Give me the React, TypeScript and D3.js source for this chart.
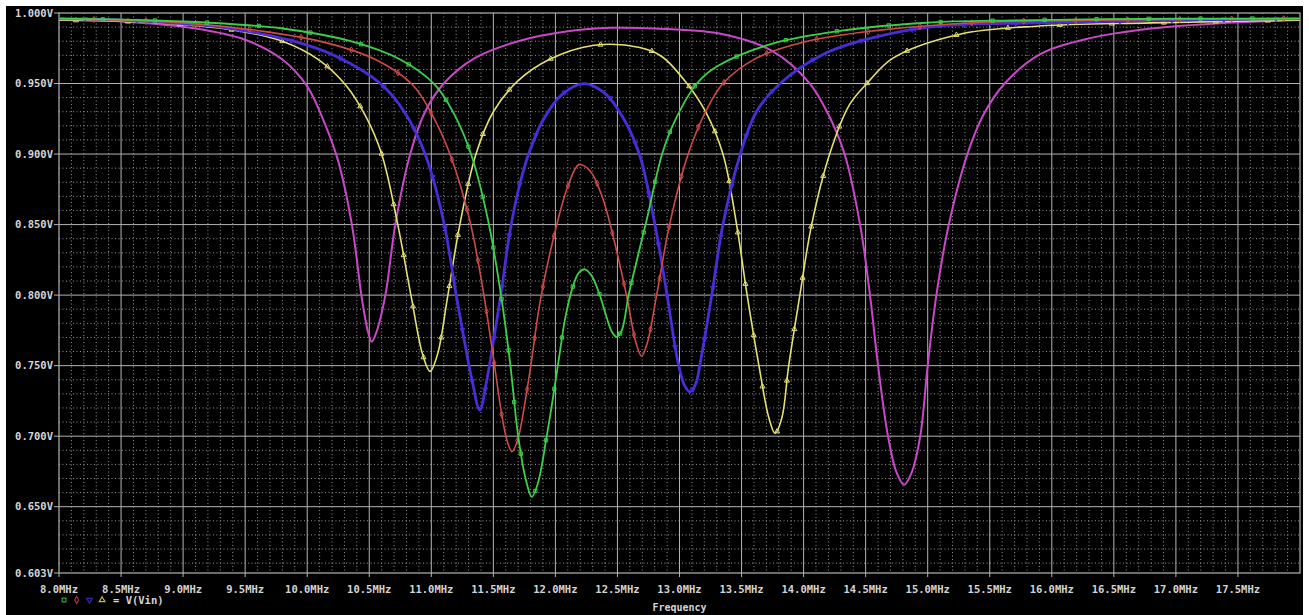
import React, { useEffect, useRef } from "react";
import * as d3 from "d3";

const W = 1309;
const H = 615;

const xTicks = [8.0, 8.5, 9.0, 9.5, 10.0, 10.5, 11.0, 11.5, 12.0, 12.5, 13.0, 13.5, 14.0, 14.5, 15.0, 15.5, 16.0, 16.5, 17.0, 17.5];
const xTickLabels = ["8.0MHz", "8.5MHz", "9.0MHz", "9.5MHz", "10.0MHz", "10.5MHz", "11.0MHz", "11.5MHz", "12.0MHz", "12.5MHz", "13.0MHz", "13.5MHz", "14.0MHz", "14.5MHz", "15.0MHz", "15.5MHz", "16.0MHz", "16.5MHz", "17.0MHz", "17.5MHz"];
const yTicks = [1.0, 0.95, 0.9, 0.85, 0.8, 0.75, 0.7, 0.65, 0.603];
const yTickLabels = ["1.000V", "0.950V", "0.900V", "0.850V", "0.800V", "0.750V", "0.700V", "0.650V", "0.603V"];

// [frequency MHz, voltage V]
const magentaPts: [number, number][] = [
  [8.0, 0.995], [8.5, 0.994], [9.1, 0.989], [9.5, 0.981], [9.8, 0.967], [10.0, 0.948], [10.14, 0.922],
  [10.25, 0.895], [10.36, 0.85], [10.44, 0.798], [10.49, 0.774], [10.52, 0.767], [10.555, 0.773], [10.63, 0.8],
  [10.71, 0.85], [10.83, 0.9], [10.95, 0.93], [11.1, 0.95], [11.35, 0.968], [11.7, 0.98], [12.1, 0.987],
  [12.45, 0.9895], [12.8, 0.989], [13.35, 0.985], [13.75, 0.973], [14.05, 0.95], [14.2, 0.928], [14.33, 0.9],
  [14.455, 0.85], [14.535, 0.8], [14.6, 0.75], [14.68, 0.7], [14.75, 0.674], [14.81, 0.6655], [14.87, 0.674],
  [14.94, 0.7], [15.0, 0.75], [15.07, 0.8], [15.17, 0.85], [15.32, 0.9], [15.45, 0.928], [15.62, 0.95],
  [15.9, 0.9705], [16.3, 0.982], [16.8, 0.989], [17.4, 0.993], [18.0, 0.995],
];

const yellowPts: [number, number][] = [
  [8.0, 0.995], [8.8, 0.993], [9.4, 0.988], [9.8, 0.98], [10.09, 0.967], [10.31, 0.949], [10.47, 0.927],
  [10.6, 0.9], [10.73, 0.85], [10.84, 0.798], [10.93, 0.758], [10.99, 0.746], [11.05, 0.758], [11.13, 0.798],
  [11.23, 0.85], [11.36, 0.9], [11.5, 0.93], [11.7, 0.952], [11.95, 0.967], [12.3, 0.977], [12.68, 0.9755],
  [12.86, 0.969], [13.06, 0.95], [13.21, 0.93], [13.35, 0.9], [13.46, 0.85], [13.545, 0.8], [13.64, 0.75],
  [13.72, 0.713], [13.77, 0.702], [13.825, 0.713], [13.88, 0.75], [13.97, 0.8], [14.065, 0.85], [14.21, 0.9],
  [14.37, 0.935], [14.51, 0.95], [14.72, 0.968], [15.26, 0.985], [15.9, 0.9908], [16.8, 0.993], [18.0, 0.995],
];

const bluePts: [number, number][] = [
  [8.0, 0.996], [8.5, 0.995], [9.3, 0.99], [9.89, 0.98], [10.24, 0.969], [10.59, 0.95], [10.79, 0.929],
  [10.95, 0.9], [11.1, 0.852], [11.2, 0.8], [11.27, 0.766], [11.33, 0.739], [11.39, 0.7185], [11.45, 0.741],
  [11.5, 0.767], [11.56, 0.8], [11.63, 0.843], [11.7, 0.874], [11.78, 0.899], [11.9, 0.924], [12.05, 0.942],
  [12.23, 0.95], [12.4, 0.943], [12.55, 0.925], [12.68, 0.899], [12.8, 0.851], [12.9, 0.8], [12.98, 0.756],
  [13.04, 0.736], [13.085, 0.7315], [13.13, 0.737], [13.175, 0.756], [13.26, 0.8], [13.35, 0.85], [13.49, 0.9],
  [13.62, 0.93], [13.81, 0.95], [14.16, 0.9708], [14.56, 0.9825], [15.1, 0.9908], [15.9, 0.993], [17.0, 0.995],
  [18.0, 0.996],
];

const redPts: [number, number][] = [
  [8.0, 0.996], [9.0, 0.993], [9.65, 0.987], [10.15, 0.979], [10.55, 0.967], [10.85, 0.949], [11.0, 0.929],
  [11.15, 0.9], [11.31, 0.853], [11.42, 0.802], [11.5, 0.756], [11.57, 0.714], [11.61, 0.697], [11.65, 0.689],
  [11.695, 0.697], [11.74, 0.716], [11.8, 0.749], [11.88, 0.797], [12.0, 0.846], [12.1, 0.877], [12.19, 0.8925],
  [12.28, 0.888], [12.38, 0.869], [12.47, 0.84], [12.575, 0.799], [12.65, 0.766], [12.695, 0.7567],
  [12.74, 0.766], [12.82, 0.802], [12.92, 0.85], [13.07, 0.9], [13.21, 0.93], [13.35, 0.95], [13.62, 0.968],
  [14.03, 0.98], [14.56, 0.9873], [15.37, 0.9931], [16.5, 0.995], [18.0, 0.996],
];

const greenPts: [number, number][] = [
  [8.0, 0.996], [9.0, 0.994], [9.8, 0.989], [10.35, 0.98], [10.75, 0.967], [11.03, 0.949], [11.18, 0.929],
  [11.32, 0.9], [11.46, 0.852], [11.565, 0.798], [11.635, 0.752], [11.7, 0.7], [11.765, 0.668], [11.81, 0.657],
  [11.86, 0.667], [11.93, 0.7], [11.98, 0.727], [12.03, 0.756], [12.08, 0.784], [12.14, 0.806], [12.19, 0.816],
  [12.238, 0.8183], [12.29, 0.814], [12.35, 0.802], [12.41, 0.785], [12.455, 0.774], [12.494, 0.7704],
  [12.535, 0.775], [12.59, 0.8], [12.66, 0.826], [12.74, 0.855], [12.86, 0.9], [12.96, 0.923], [13.14, 0.95],
  [13.3, 0.962], [13.73, 0.9778], [14.29, 0.9873], [14.99, 0.9931], [15.69, 0.9948], [17.0, 0.996], [18.0, 0.996],
];

const seriesNames = ["magenta", "yellow", "blue", "red", "green"];
const seriesData = [magentaPts, yellowPts, bluePts, redPts, greenPts];
const seriesColors = ["#c848c8", "#e6e070", "#4a2cd8", "#d04a4a", "#3cd04a"];
const seriesWidths = [2, 1.6, 2.8, 1.6, 1.8];
const seriesMarkers = ["none", "triangle", "triangleDown", "diamond", "square"];

const legendOrder = [4, 3, 2, 1];
const legendText = "= V(Vin)";
const xAxisTitle = "Frequency";

function symbolFor(kind: string) {
  if (kind === "triangle") return d3.symbolTriangle;
  if (kind === "triangleDown") return d3.symbolTriangle;
  if (kind === "diamond") return d3.symbolDiamond;
  if (kind === "square") return d3.symbolSquare;
  return d3.symbolCircle;
}

export default function App() {
  const ref = useRef<SVGSVGElement | null>(null);

  useEffect(() => {
    const svg = d3.select(ref.current);
    svg.selectAll("*").remove();

    const left = 59, right = 1300, top = 13, bottom = 573;
    const x = d3.scaleLinear().domain([8, 18]).range([left, right]);
    const y = d3.scaleLinear().domain([0.603, 1.0]).range([bottom, top]);
    const font = "'DejaVu Sans Mono', monospace";
    const textColor = "#d4d4d4";

    svg.append("rect").attr("x", 0).attr("y", 0).attr("width", W).attr("height", H).attr("fill", "#ffffff");
    svg.append("rect").attr("x", 6).attr("y", 6).attr("width", 1297).attr("height", H - 6).attr("fill", "#000000");

    const grid = svg.append("g");
    const minorX = d3.range(81, 180).filter((i) => i % 5 !== 0).map((i) => i / 10);
    const minorY = d3.range(61, 100).filter((i) => i % 5 !== 0).map((i) => i / 100);
    grid.selectAll("line.mx").data(minorX).enter().append("line")
      .attr("x1", (d) => x(d)).attr("x2", (d) => x(d)).attr("y1", top).attr("y2", bottom)
      .attr("stroke", "#969696").attr("stroke-width", 1).attr("stroke-dasharray", "1 2.5");
    grid.selectAll("line.my").data(minorY).enter().append("line")
      .attr("x1", left).attr("x2", right).attr("y1", (d) => y(d)).attr("y2", (d) => y(d))
      .attr("stroke", "#969696").attr("stroke-width", 1).attr("stroke-dasharray", "1 2.5");
    grid.selectAll("line.Mx").data(xTicks.slice(1)).enter().append("line")
      .attr("x1", (d) => x(d)).attr("x2", (d) => x(d)).attr("y1", top).attr("y2", bottom + 4)
      .attr("stroke", "#b4b4b4").attr("stroke-width", 1);
    grid.selectAll("line.My").data(yTicks.slice(1, -1)).enter().append("line")
      .attr("x1", left - 5).attr("x2", right).attr("y1", (d) => y(d)).attr("y2", (d) => y(d))
      .attr("stroke", "#b4b4b4").attr("stroke-width", 1);
    grid.append("rect").attr("x", left).attr("y", top).attr("width", right - left).attr("height", bottom - top)
      .attr("fill", "none").attr("stroke", "#b4b4b4").attr("stroke-width", 1.2);
    grid.append("line").attr("x1", left - 5).attr("x2", left).attr("y1", y(1.0)).attr("y2", y(1.0)).attr("stroke", "#b4b4b4");
    grid.append("line").attr("x1", left - 5).attr("x2", left).attr("y1", y(0.603)).attr("y2", y(0.603)).attr("stroke", "#b4b4b4");
    grid.append("line").attr("x1", left).attr("x2", left).attr("y1", bottom).attr("y2", bottom + 4).attr("stroke", "#b4b4b4");

    svg.selectAll("text.yl").data(yTicks).enter().append("text")
      .attr("x", left - 6).attr("y", (d) => y(d)).attr("dy", "0.35em").attr("text-anchor", "end")
      .attr("font-family", font).attr("font-size", 10.5).attr("font-weight", "bold").attr("fill", textColor)
      .text((d, i) => yTickLabels[i]);
    svg.selectAll("text.xl").data(xTicks).enter().append("text")
      .attr("x", (d) => x(d)).attr("y", 589).attr("dy", "0.35em").attr("text-anchor", "middle")
      .attr("font-family", font).attr("font-size", 10.5).attr("font-weight", "bold").attr("fill", textColor)
      .text((d, i) => xTickLabels[i]);
    svg.append("text").attr("x", (left + right) / 2).attr("y", 611).attr("text-anchor", "middle")
      .attr("font-family", font).attr("font-size", 10).attr("font-weight", "bold").attr("fill", textColor)
      .text(xAxisTitle);

    const lg = svg.append("g");
    legendOrder.forEach((si, k) => {
      const cx = 64 + k * 12.7;
      const sym = d3.symbol().type(symbolFor(seriesMarkers[si])).size(14);
      lg.append("path").attr("d", sym() as string)
        .attr("transform", `translate(${cx},600)${seriesMarkers[si] === "triangleDown" ? " rotate(180)" : ""}`)
        .attr("fill", "none").attr("stroke", seriesColors[si]).attr("stroke-width", 1.2).attr("opacity", 0.8);
    });
    lg.append("text").attr("x", 113).attr("y", 600).attr("dy", "0.35em")
      .attr("font-family", font).attr("font-size", 10.5).attr("font-weight", "bold").attr("fill", textColor)
      .text(legendText);

    const line = d3.line<[number, number]>().x((d) => x(d[0])).y((d) => y(d[1])).curve(d3.curveCatmullRom.alpha(0.5));
    const plot = svg.append("g");
    seriesData.forEach((pts, si) => {
      const p = plot.append("path").attr("d", line(pts) as string).attr("fill", "none")
        .attr("stroke", seriesColors[si]).attr("stroke-width", seriesWidths[si]).attr("stroke-linejoin", "round")
        .attr("class", seriesNames[si]);
      if (seriesMarkers[si] === "none") return;
      const node = p.node() as SVGPathElement;
      const len = node.getTotalLength();
      const step = 52;
      const sym = d3.symbol().type(symbolFor(seriesMarkers[si])).size(11);
      for (let s = 8 + si * 9; s < len; s += step) {
        const pt = node.getPointAtLength(s);
        plot.append("path").attr("d", sym() as string)
          .attr("transform", `translate(${pt.x},${pt.y})${seriesMarkers[si] === "triangleDown" ? " rotate(180)" : ""}`)
          .attr("fill", "none").attr("stroke", seriesColors[si]).attr("stroke-width", 1);
      }
    });
  }, []);

  return (
    <svg ref={ref} width={W} height={H} style={{ position: "absolute", left: 0, top: 0, display: "block" }} />
  );
}
